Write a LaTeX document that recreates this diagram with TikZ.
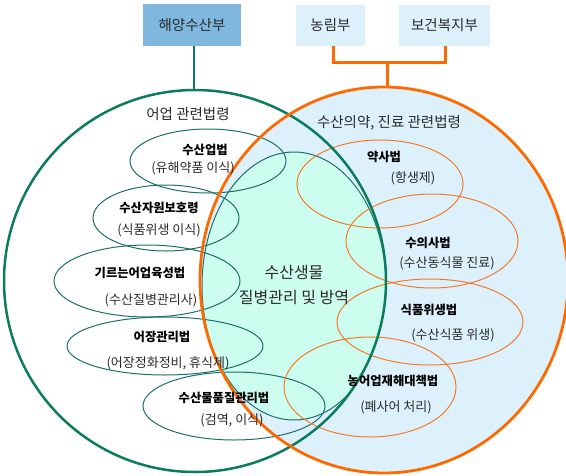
\documentclass[tikz,border=0pt]{standalone}
\usepackage{fontspec}
\setmainfont{Noto Sans CJK KR}
\usetikzlibrary{shapes.geometric}
\definecolor{gline}{HTML}{0B7D5E}
\definecolor{oline}{HTML}{FF6A00}
\definecolor{tline}{HTML}{1B6F6C}
\definecolor{oell}{HTML}{F47A2A}
\definecolor{mint}{HTML}{CCFDEE}
\definecolor{lblue}{HTML}{DDF1FC}
\definecolor{boxdark}{HTML}{7FB7DF}
\definecolor{txt}{HTML}{2A2A2A}
\begin{document}
\begin{tikzpicture}[x=1pt,y=-1pt,
  topbox/.style={rectangle, inner sep=0, text=txt, font=\fontsize{14.5}{16}\selectfont},
  tell/.style={ellipse, draw=tline, line width=1pt, inner sep=0},
  oellip/.style={ellipse, draw=oell, line width=1pt, inner sep=0},
  lab/.style={inner sep=0, text=black, font=\fontsize{12.3}{14}\selectfont\bfseries},
  sub/.style={inner sep=0, text=txt, font=\fontsize{13}{15}\selectfont},
  head/.style={inner sep=0, text=txt, font=\fontsize{14.5}{16}\selectfont},
  cen/.style={inner sep=0, text=txt, font=\fontsize{16}{18}\selectfont}]
\useasboundingbox (0,0) rectangle (566,475);
% big sets
\node[ellipse, minimum width=368pt, minimum height=386pt, fill=lblue, inner sep=0] (O) at (384,280) {};
\begin{scope}
  \clip (195,281) ellipse [x radius=191pt, y radius=191pt];
  \clip (384,280) ellipse [x radius=184pt, y radius=193pt];
  \fill[mint] (294,286) ellipse [x radius=92pt, y radius=134pt];
  \draw[tline, line width=1pt] (294,286) ellipse [x radius=92pt, y radius=134pt];
\end{scope}
% small teal ellipses
\node[tell, minimum width=156pt, minimum height=64pt] (e1) at (208,161) {};
\node[tell, minimum width=146pt, minimum height=66pt] (e2) at (166,218) {};
\node[tell, minimum width=186pt, minimum height=72pt] (e3) at (147,281) {};
\node[tell, minimum width=196pt, minimum height=58pt] (e4) at (165,346) {};
\node[tell, minimum width=182pt, minimum height=68pt] (e5) at (234,406) {};
% small orange ellipses
\node[oellip, minimum width=166pt, minimum height=88pt] (fa) at (380,184) {};
\node[oellip, minimum width=172pt, minimum height=94pt] (fb) at (432,241) {};
\node[oellip, minimum width=186pt, minimum height=86pt] (fc) at (430,322) {};
\node[oellip, minimum width=172pt, minimum height=100pt] (fd) at (370,387) {};
% big outlines
\node[ellipse, minimum width=382pt, minimum height=382pt, draw=gline, line width=2.5pt, inner sep=0] (G) at (195,281) {};
\node[ellipse, minimum width=368pt, minimum height=386pt, draw=oline, line width=2.8pt, inner sep=0] (O2) at (384,280) {};
% top boxes
\node[topbox, fill=boxdark, minimum width=98pt, minimum height=42pt] (hy) at (192,25) {해양수산부};
\node[topbox, fill=lblue, minimum width=69pt, minimum height=41pt] (nl) at (330.5,25.5) {농림부};
\node[topbox, fill=lblue, minimum width=91pt, minimum height=41pt] (bg) at (444.5,25.5) {보건복지부};
% connectors
\draw[gline, line width=2.5pt] (hy.south -| 194,0) -- (G.north -| 194,0);
\coordinate (jn) at (387,62);
\draw[oline, line width=3pt] (nl.south -| 333,0) |- (jn) -| (bg.south -| 445,0);
\draw[oline, line width=3pt] (jn) -- (O2.north -| 387,0);
% headings
\node[head] (h1) at (188,114) {어업 관련법령};
\node[head] (h2) at (389,123) {수산의약, 진료 관련법령};
\node[cen] (c1) at (294,273) {수산생물};
\node[cen] (c2) at (294,298) {질병관리 및 방역};
% left labels
\node[lab] (t1) at (205,150) {수산업법};
\node[sub] (s1) at (193,168) {(유해약품 이식)};
\node[lab] (t2) at (159,208) {수산자원보호령};
\node[sub] (s2) at (159,230) {(식품위생 이식)};
\node[lab] (t3) at (140,273) {기르는어업육성법};
\node[sub] (s3) at (151,300) {(수산질병관리사)};
\node[lab] (t4) at (162,337) {어장관리법};
\node[sub] (s4) at (168,363) {(어장정화정비, 휴식제)};
\node[lab] (t5) at (224,398) {수산물품질관리법};
\node[sub] (s5) at (232,420) {(검역, 이식)};
% right labels
\node[lab] (ta) at (384,157) {약사법};
\node[sub] (sa) at (413,178) {(항생제)};
\node[lab] (tb) at (428,243) {수의사법};
\node[sub] (sb) at (447,263) {(수산동식물 진료)};
\node[lab] (tc) at (429,310) {식품위생법};
\node[sub] (sc) at (453,335) {(수산식품 위생)};
\node[lab] (td) at (393,381) {농어업재해대책법};
\node[sub] (sd) at (396,407) {(폐사어 처리)};
\end{tikzpicture}
\end{document}
